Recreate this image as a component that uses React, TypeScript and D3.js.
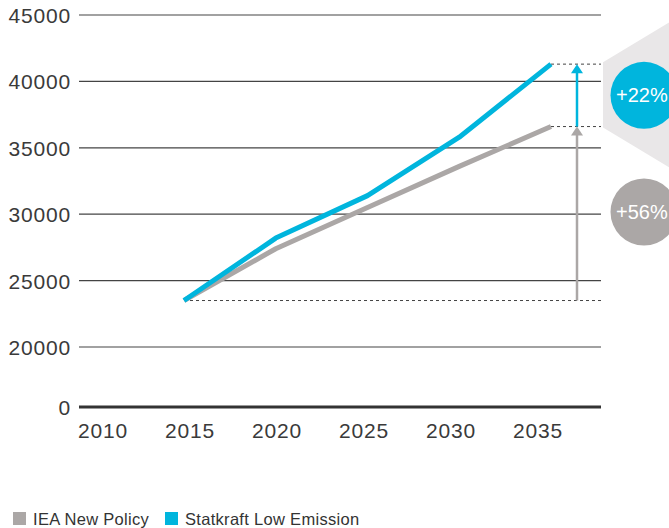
import React from 'react'
import * as d3 from 'd3'

const years = [2015, 2020, 2025, 2030, 2035]
const ieaNewPolicy = [23500, 27400, 30500, 33600, 36600]
const statkraftLow = [23500, 28200, 31400, 35800, 41300]
const yTicks = [0, 20000, 25000, 30000, 35000, 40000, 45000]
const xTickLabels = [2010, 2015, 2020, 2025, 2030, 2035]
const badges = [
  { label: '+22%', color: '#00b5dd' },
  { label: '+56%', color: '#aba7a6' },
]
const legendItems = [
  { label: 'IEA New Policy', color: '#aba7a6' },
  { label: 'Statkraft Low Emission', color: '#00b5dd' },
]

const W = 669
const H = 528
const BLUE = '#00b5dd'
const GREY = '#aba7a6'
const FONT = '"Liberation Sans", Arial, sans-serif'

export default function App() {
  // broken axis: 0 sits below a gap, 20000-45000 is linear
  const y = d3.scaleLinear().domain([0, 20000, 45000]).range([407, 347, 15])
  const x = d3.scaleLinear().domain([2015, 2035]).range([184, 551])
  // tick labels are spaced a little differently from the data in the original
  const xLab = d3.scaleLinear().domain([2010, 2035]).range([103, 538])
  const gridL = 79
  const gridR = 601

  const line = d3.line<number>()
    .x((_, i) => x(years[i]))
    .y(d => y(d))

  const base = ieaNewPolicy[0]
  const lastI = years.length - 1
  const arrowX = x(years[lastI]) + 26
  const yBase = y(base)
  const yGrey = y(ieaNewPolicy[lastI])
  const yBlue = y(statkraftLow[lastI])

  const head = (tipY: number) => `M${arrowX},${tipY} L${arrowX - 6},${tipY + 9} L${arrowX + 6},${tipY + 9} Z`

  // light hexagon behind the +22% badge
  const hx = gridR + 2
  const hexPts = [
    [hx, yBlue - 2],
    [hx + 70, yBlue - 44],
    [hx + 140, yBlue - 2],
    [hx + 140, yGrey + 1],
    [hx + 70, yGrey + 43],
    [hx, yGrey + 1],
  ].map(p => p.join(',')).join(' ')

  const badgeY = [(yBlue + yGrey) / 2, 212]

  return (
    <svg width={W} height={H} style={{ position: 'absolute', left: 0, top: 0, background: '#fff' }} fontFamily={FONT}>
      <polygon points={hexPts} fill="#e9e7e8" />

      {yTicks.filter(t => t > 0).map(t => (
        <line key={t} x1={gridL} x2={gridR} y1={y(t)} y2={y(t)} stroke="#444" strokeWidth={1.2} />
      ))}
      <line x1={gridL} x2={gridR} y1={y(0)} y2={y(0)} stroke="#333" strokeWidth={3} />

      {yTicks.map(t => (
        <text key={t} x={71} y={y(t) + 8} textAnchor="end" fontSize={21} fill="#3a3a3a" letterSpacing={0.8}>{t}</text>
      ))}
      {xTickLabels.map(t => (
        <text key={t} x={xLab(t)} y={438} textAnchor="middle" fontSize={21} fill="#3a3a3a" letterSpacing={0.8}>{t}</text>
      ))}

      {/* dashed reference lines */}
      <line x1={x(years[0])} x2={gridR} y1={yBase} y2={yBase} stroke="#444" strokeWidth={1} strokeDasharray="3,3" />
      <line x1={x(years[lastI])} x2={gridR} y1={yGrey} y2={yGrey} stroke="#444" strokeWidth={1} strokeDasharray="3,3" />
      <line x1={x(years[lastI])} x2={gridR} y1={yBlue} y2={yBlue} stroke="#444" strokeWidth={1} strokeDasharray="3,3" />

      <path d={line(ieaNewPolicy) || ''} fill="none" stroke={GREY} strokeWidth={5} strokeLinejoin="round" />
      <path d={line(statkraftLow) || ''} fill="none" stroke={BLUE} strokeWidth={5} strokeLinejoin="round" />

      {/* growth arrows */}
      <line x1={arrowX} x2={arrowX} y1={yBase} y2={yGrey + 8} stroke={GREY} strokeWidth={2.5} />
      <path d={head(yGrey)} fill={GREY} />
      <line x1={arrowX} x2={arrowX} y1={yGrey} y2={yBlue + 8} stroke={BLUE} strokeWidth={2.5} />
      <path d={head(yBlue)} fill={BLUE} />

      {badges.map((b, i) => (
        <g key={b.label}>
          <circle cx={644} cy={badgeY[i]} r={33.5} fill={b.color} />
          <text x={616} y={badgeY[i] + 7} fontSize={20} fill="#fff">{b.label}</text>
        </g>
      ))}

      {legendItems.map((it, i) => (
        <g key={it.label} transform={`translate(${i === 0 ? 13 : 165},512)`}>
          <rect width={13} height={13} fill={it.color} />
          <text x={20} y={12.5} fontSize={16.5} fill="#333" letterSpacing={0.3}>{it.label}</text>
        </g>
      ))}
    </svg>
  )
}
